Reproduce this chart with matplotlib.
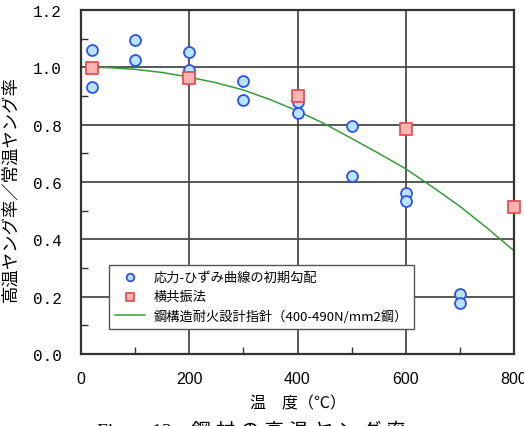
import matplotlib
matplotlib.use("Agg")
import matplotlib.pyplot as plt
from matplotlib.ticker import MultipleLocator

plt.rcParams['font.family'] = ['Noto Sans CJK JP', 'DejaVu Sans']

# 応力-ひずみ曲線の初期勾配 (circles)
stress_x = [20, 20, 100, 100, 200, 200, 300, 300, 400, 400, 500, 500, 600, 600, 700, 700]
stress_y = [1.061, 0.930, 1.096, 1.026, 1.055, 0.992, 0.951, 0.886, 0.880, 0.840,
            0.794, 0.622, 0.562, 0.535, 0.209, 0.178]

# 横共振法 (squares)
reso_x = [20, 200, 400, 600, 800]
reso_y = [0.997, 0.962, 0.899, 0.785, 0.514]

# 鋼構造耐火設計指針 curve
guide_x = [20, 50, 100, 150, 200, 250, 300, 350, 400, 450, 500, 550, 600, 650, 700, 750, 800]
guide_y = [1.0, 0.999, 0.993, 0.982, 0.966, 0.946, 0.921, 0.887, 0.848, 0.803, 0.752,
           0.700, 0.646, 0.582, 0.515, 0.440, 0.360]

x_ticks = [0, 200, 400, 600, 800]
y_ticks = [0.0, 0.2, 0.4, 0.6, 0.8, 1.0, 1.2]

fig = plt.figure(figsize=(5.24, 4.27), dpi=100)
ax = fig.add_axes([81 / 524, 1 - 355 / 427, 433 / 524, 344 / 427])

ax.grid(True, color='#4a4a4a', lw=1.3, zorder=0)
ax.set_axisbelow(True)

ax.plot(guide_x, guide_y, color='#3a9a3a', lw=1.1, zorder=2,
        label='鋼構造耐火設計指針（400-490N/mm2鋼）')
ax.scatter(stress_x, stress_y, s=62, marker='o', facecolor='#b8e4ff',
           edgecolor='#3050f0', lw=1.3, zorder=3, label='応力-ひずみ曲線の初期勾配')
ax.scatter(reso_x, reso_y, s=66, marker='s', facecolor='#ffb4b4',
           edgecolor='#e85050', lw=1.3, zorder=4, label='横共振法', clip_on=False)

ax.set_xlim(0, 800)
ax.set_ylim(0, 1.2)
ax.set_xticks(x_ticks)
ax.set_yticks(y_ticks)
ax.set_yticklabels([f'{v:.1f}' for v in y_ticks], family='Liberation Mono', fontsize=11.5)
ax.set_xticklabels([str(v) for v in x_ticks], family='Liberation Sans', fontsize=11.5)
ax.xaxis.set_minor_locator(MultipleLocator(100))
ax.yaxis.set_minor_locator(MultipleLocator(0.1))
ax.tick_params(which='both', direction='in', top=False, right=False)
ax.tick_params(which='major', length=0, pad=12)
ax.tick_params(axis='y', which='major', pad=14)
ax.tick_params(which='minor', length=5, width=1, color='#333333')
for s in ax.spines.values():
    s.set_color('#333333')
    s.set_linewidth(1.6)

ax.set_xlabel('温　度（℃）', fontsize=11.5, labelpad=6)
fig.text(10 / 524, 1 - 189 / 427, '高温ヤング率／常温ヤング率', rotation=90,
         ha='center', va='center', fontsize=12.5)

handles, labels = ax.get_legend_handles_labels()
order = [1, 2, 0]
leg = ax.legend([handles[i] for i in order], [labels[i] for i in order],
                loc='lower left', bbox_to_anchor=(0.065, 0.073), borderaxespad=0,
                fontsize=9.5, fancybox=False, framealpha=1, edgecolor='#555555',
                handlelength=2.3, labelspacing=0.5, borderpad=0.45,
                handletextpad=0.6)
leg.get_frame().set_linewidth(1.0)
leg.legend_handles[0].set_sizes([30])
leg.legend_handles[1].set_sizes([30])

fig.text(97 / 524, 1 - 421 / 427, 'Fig.　 12　鋼 材 の 高 温 ヤ ン グ 率', ha='left', va='top',
         fontsize=14, family=['Liberation Serif', 'Noto Sans CJK JP'])

fig.savefig('out.png', dpi=100)
